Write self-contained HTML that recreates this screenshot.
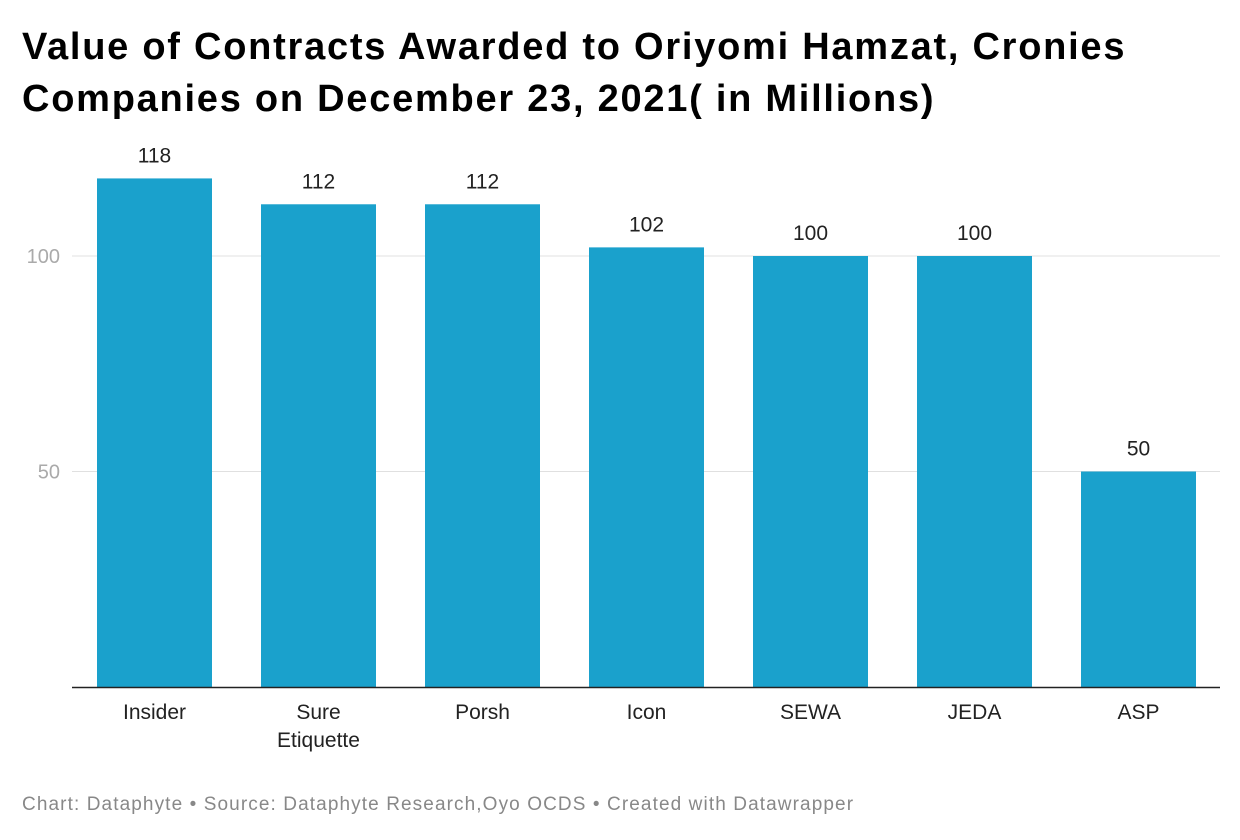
<!DOCTYPE html>
<html><head><meta charset="utf-8"><style>
body{margin:0;background:#fff;width:1240px;height:840px;overflow:hidden;font-family:"Liberation Sans",sans-serif}
.title{position:absolute;left:22px;top:21px;font-size:38px;font-weight:bold;line-height:52px;color:#000;letter-spacing:1.75px;white-space:nowrap}
.foot{position:absolute;left:22px;top:794px;font-size:19px;color:#888;letter-spacing:1.1px;white-space:nowrap}
</style></head><body>
<div class="title">Value of Contracts Awarded to Oriyomi Hamzat, Cronies<br>Companies on December 23, 2021( in Millions)</div>
<svg id="c" width="1240" height="840" style="position:absolute;left:0;top:0"></svg>
<div class="foot">Chart: Dataphyte • Source: Dataphyte Research,Oyo OCDS • Created with Datawrapper</div>
<script>
const categories=["Insider","Sure Etiquette","Porsh","Icon","SEWA","JEDA","ASP"];
const values=[118,112,112,102,100,100,50];
const ticks=[50,100];
const svg=document.getElementById('c');const NS="http://www.w3.org/2000/svg";
const y=v=>687-v*4.31;
const x0=97,step=164,bw=115;
function mk(t,a,txt){const e=document.createElementNS(NS,t);for(const k in a)e.setAttribute(k,a[k]);if(txt!==undefined)e.textContent=txt;svg.appendChild(e);return e;}
ticks.forEach(t=>{
const g=mk('line',{x1:72,x2:1220,y1:y(t),y2:y(t),stroke:'#e0e0e0','stroke-width':1});


const l=mk('text',{x:60,y:y(t)+7,'text-anchor':'end','font-size':20,fill:'#aaa','font-family':'Liberation Sans'},t);


});
categories.forEach((c,i)=>{
const x=x0+i*step,v=values[i];
const r=mk('rect',{x:x,y:y(v),width:bw,height:687-y(v),fill:'#1aa1cc'});


const vl=mk('text',{x:x+bw/2,y:y(v)-16,'text-anchor':'middle','font-size':21,fill:'#222','font-family':'Liberation Sans'},v);


c.split(' ').forEach((w,j)=>{
const t=mk('text',{x:x+bw/2,y:719+j*28,'text-anchor':'middle','font-size':21,fill:'#222','font-family':'Liberation Sans'},w);


});
});
const ax=mk('line',{x1:72,x2:1220,y1:687.5,y2:687.5,stroke:'#222','stroke-width':1.5});


</script>
</body></html>
